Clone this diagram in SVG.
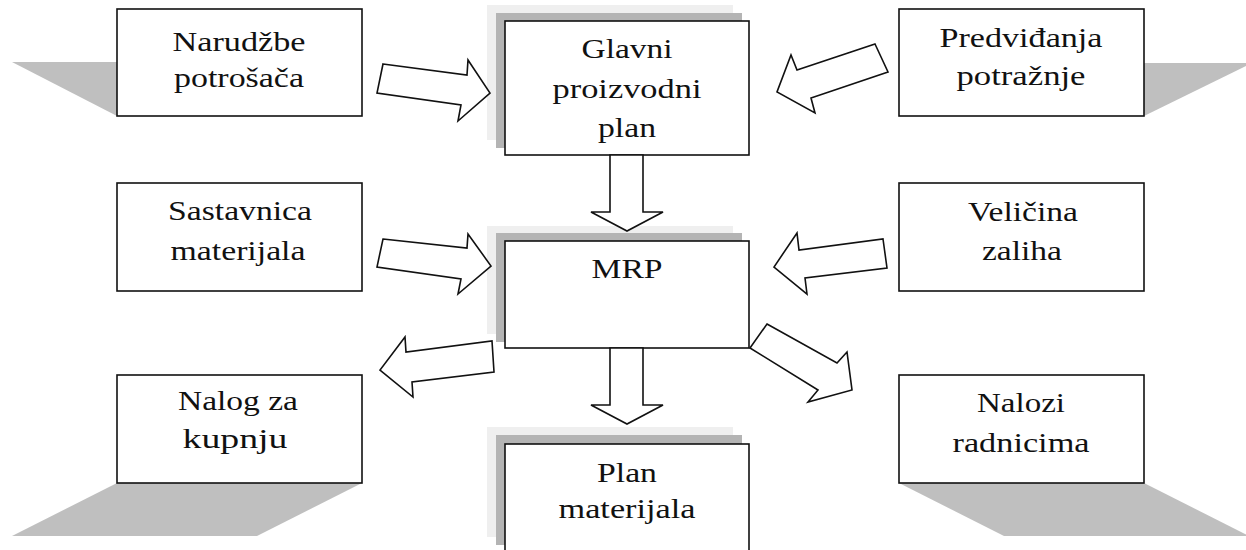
<svg xmlns="http://www.w3.org/2000/svg" width="1246" height="550" viewBox="0 0 1246 550">
<style>
.box{fill:#fff;stroke:#111;stroke-width:1.6}
.sh1{fill:#efefef}
.sh2{fill:#b4b4b4}
.psh{fill:#bfbfbf}
.arr{fill:#fff;stroke:#111;stroke-width:1.6;stroke-linejoin:miter}
</style>
<rect width="1246" height="550" fill="#fff"/>
<g font-family="Liberation Serif, Times New Roman, serif" font-size="28" fill="#111" text-anchor="middle">
<g id="narudzbe">
<polygon class="psh" points="12,62 257,62 362,116 117,116"/>
<rect class="box" x="117" y="9" width="245" height="107"/>
<text x="239" y="51" textLength="133" lengthAdjust="spacingAndGlyphs">Narudžbe</text>
<text x="239" y="87" textLength="130" lengthAdjust="spacingAndGlyphs">potrošača</text>
</g>
<g id="glavni">
<rect class="sh1" x="487" y="5" width="246" height="135"/>
<rect class="sh2" x="496" y="13" width="246" height="135"/>
<rect class="box" x="505" y="21" width="244" height="134"/>
<text x="627" y="58" textLength="91" lengthAdjust="spacingAndGlyphs">Glavni</text>
<text x="627" y="98" textLength="149" lengthAdjust="spacingAndGlyphs">proizvodni</text>
<text x="627" y="137" textLength="58" lengthAdjust="spacingAndGlyphs">plan</text>
</g>
<g id="predvidjanja">
<polygon class="psh" points="1004,63 1252,63 1144,116 899,116"/>
<rect class="box" x="899" y="9" width="245" height="107"/>
<text x="1021" y="47" textLength="163" lengthAdjust="spacingAndGlyphs">Predviđanja</text>
<text x="1021" y="85" textLength="129" lengthAdjust="spacingAndGlyphs">potražnje</text>
</g>
<g id="sastavnica">
<rect class="box" x="117" y="183" width="245" height="108"/>
<text x="240" y="220" textLength="144" lengthAdjust="spacingAndGlyphs">Sastavnica</text>
<text x="238" y="260" textLength="135" lengthAdjust="spacingAndGlyphs">materijala</text>
</g>
<g id="mrp">
<rect class="sh1" x="487" y="226" width="246" height="108"/>
<rect class="sh2" x="496" y="233" width="246" height="109"/>
<rect class="box" x="505" y="241" width="244" height="107"/>
<text x="627" y="278" textLength="71" lengthAdjust="spacingAndGlyphs">MRP</text>
</g>
<g id="velicina">
<rect class="box" x="899" y="183" width="245" height="108"/>
<text x="1023" y="221" textLength="110" lengthAdjust="spacingAndGlyphs">Veličina</text>
<text x="1022" y="260" textLength="80" lengthAdjust="spacingAndGlyphs">zaliha</text>
</g>
<g id="nalog">
<polygon class="psh" points="117,483 362,483 257,536 12,536"/>
<rect class="box" x="117" y="375" width="245" height="108"/>
<text x="238" y="410" textLength="120" lengthAdjust="spacingAndGlyphs">Nalog za</text>
<text x="235" y="448" textLength="105" lengthAdjust="spacingAndGlyphs">kupnju</text>
</g>
<g id="plan">
<rect class="sh1" x="487" y="427" width="246" height="110"/>
<rect class="sh2" x="496" y="435" width="246" height="110"/>
<rect class="box" x="505" y="444" width="244" height="110"/>
<text x="627" y="482" textLength="60" lengthAdjust="spacingAndGlyphs">Plan</text>
<text x="627" y="518" textLength="137" lengthAdjust="spacingAndGlyphs">materijala</text>
</g>
<g id="nalozi">
<polygon class="psh" points="899,483 1144,483 1249,536 1004,536"/>
<rect class="box" x="899" y="375" width="245" height="108"/>
<text x="1021" y="412" textLength="88" lengthAdjust="spacingAndGlyphs">Nalozi</text>
<text x="1021" y="452" textLength="137" lengthAdjust="spacingAndGlyphs">radnicima</text>
</g>
</g>
<g id="connectors">
<polygon class="arr" points="383,64 467,75 468,60 490,93 458,121 461,105 377,93"/>
<polygon class="arr" points="875,44 888,72 811,98 815,113 777,92 791,55 797,70"/>
<polygon class="arr" points="610,155 643,155 643,212 663,212 627,231 591,212 610,212"/>
<polygon class="arr" points="383,239 467,248 468,234 491,266 458,294 461,279 377,267"/>
<polygon class="arr" points="883,239 887,268 805,278 807,294 774,267 797,233 799,250"/>
<polygon class="arr" points="492,341 494,372 412,382 413,397 380,370 405,337 406,352"/>
<polygon class="arr" points="610,348 643,348 643,405 663,405 627,424 591,405 610,405"/>
<polygon class="arr" points="767,324 837,363 847,352 852,390 808,402 818,390 750,348"/>
</g>
</svg>
